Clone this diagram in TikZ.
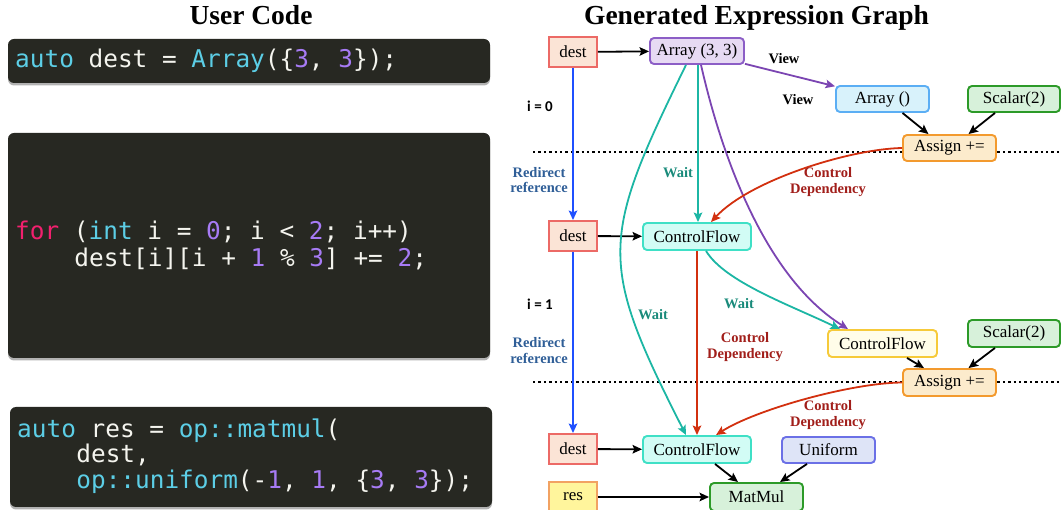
\documentclass[tikz,border=0pt]{standalone}
\usepackage{fontspec}
\setmainfont{Liberation Serif}
\newfontfamily\codefont{DejaVu Sans Mono}
\newfontfamily\lblsans{Carlito}
\usetikzlibrary{arrows.meta,shadows}

% code colours
\definecolor{codebg}{HTML}{272822}
\definecolor{codefg}{HTML}{F4F4EE}
\definecolor{kwcyan}{HTML}{5CCEE6}
\definecolor{kwpink}{HTML}{F2206E}
\definecolor{numpurple}{HTML}{A77BF5}
% graph colours
\definecolor{destfill}{HTML}{FBE4D6}
\definecolor{destdraw}{HTML}{EC6A66}
\definecolor{arrfill}{HTML}{E7DAF3}
\definecolor{arrdraw}{HTML}{8C5EC6}
\definecolor{viewfill}{HTML}{D8F2FB}
\definecolor{viewdraw}{HTML}{5BAEF4}
\definecolor{scalfill}{HTML}{D7F1DA}
\definecolor{scaldraw}{HTML}{2C9A28}
\definecolor{assfill}{HTML}{FCEBCC}
\definecolor{assdraw}{HTML}{F39A2E}
\definecolor{cffill}{HTML}{D2FCF5}
\definecolor{cfdraw}{HTML}{3FE0C6}
\definecolor{cfyfill}{HTML}{FFFDE9}
\definecolor{cfydraw}{HTML}{F6CA3A}
\definecolor{uniffill}{HTML}{DEE4F7}
\definecolor{unifdraw}{HTML}{6B70E6}
\definecolor{resfill}{HTML}{FFF59C}
\definecolor{resdraw}{HTML}{F2A262}
\definecolor{refblue}{HTML}{1F50FF}
\definecolor{waitteal}{HTML}{1CB6A4}
\definecolor{viewpurple}{HTML}{7B45B2}
\definecolor{ctrlred}{HTML}{D2300F}
\definecolor{lblblue}{HTML}{2F5E97}
\definecolor{lblteal}{HTML}{1A8B7B}
\definecolor{lblred}{HTML}{A11E1A}

\newcommand{\kw}[1]{\textcolor{kwcyan}{#1}}
\newcommand{\num}[1]{\textcolor{numpurple}{#1}}

\begin{document}
\begin{tikzpicture}[x=1pt,y=-1pt,
  codebox/.style={fill=codebg, draw=none, rounded corners=6pt, inner sep=0pt,
    drop shadow={shadow xshift=0pt, shadow yshift=-2.5pt, opacity=0.3, fill=black}},
  codeline/.style={anchor=base west, inner sep=0pt, text=codefg,
    font=\codefont\fontsize{24.4}{28}\selectfont},
  title/.style={anchor=base, inner sep=0pt, font=\bfseries\fontsize{27.5}{30}\selectfont},
  gbox/.style={draw, line width=1.9pt, inner sep=0pt, minimum height=26pt,
    rounded corners=4pt, font=\fontsize{17}{18}\selectfont},
  varbox/.style={draw, line width=1.9pt, inner sep=0pt, minimum width=48pt,
    minimum height=30pt, font=\fontsize{17}{18}\selectfont},
  conn/.style={line width=1.8pt, -{Stealth[length=9.5pt,width=8.5pt,inset=1.8pt]}},
  lbl/.style={inner sep=0pt, align=center, font=\bfseries\fontsize{14.5}{15.5}\selectfont},
  iterlbl/.style={inner sep=0pt, font=\lblsans\bfseries\fontsize{15}{16}\selectfont},
  dotline/.style={line width=2.4pt, dash pattern=on 2.4pt off 3pt}]

\useasboundingbox (0,0) rectangle (1061,510);

% ---------------- user code ----------------
\node[title] (ucTitle) at (251,25) {User Code};

\node[codebox, minimum width=482pt, minimum height=44pt] (cb1) at (249,61) {};
\node[codeline] (l1) at (15,68) {\kw{auto} dest = \kw{Array}(\{\num{3}, \num{3}\});};

\node[codebox, minimum width=482pt, minimum height=225pt] (cb2) at (249,245.5) {};
\node[codeline] (l2) at (15,240) {\textcolor{kwpink}{for} (\kw{int} i = \num{0}; i < \num{2}; i++)};
\node[codeline] (l3) at (74.2,267) {dest[i][i + \num{1} \% \num{3}] += \num{2};};

\node[codebox, minimum width=482pt, minimum height=100pt] (cb3) at (251,457) {};
\node[codeline] (l4) at (17,438) {\kw{auto} res = \kw{op::matmul}(};
\node[codeline] (l5) at (76.2,463) {dest,};
\node[codeline] (l6) at (76.2,489) {\kw{op::uniform}(-\num{1}, \num{1}, \{\num{3}, \num{3}\});};

% ---------------- expression graph ----------------
\node[title] (egTitle) at (756.5,25) {Generated Expression Graph};

% loop iteration separators
\draw[dotline] (533,152) -- (1061,152);
\draw[dotline] (533,382) -- (1061,382);

% nodes
\node[varbox, fill=destfill, draw=destdraw] (d1) at (573,52) {dest};
\node[gbox, fill=arrfill, draw=arrdraw, minimum width=94pt] (arr) at (697,51) {Array (3, 3)};
\node[gbox, fill=viewfill, draw=viewdraw, minimum width=93pt] (view) at (882.5,99) {Array ()};
\node[gbox, fill=scalfill, draw=scaldraw, minimum width=92pt] (sc1) at (1014,99) {Scalar(2)};
\node[gbox, fill=assfill, draw=assdraw, minimum width=93pt] (ass1) at (949.5,148) {Assign +=};

\node[varbox, fill=destfill, draw=destdraw] (d2) at (573,236) {dest};
\node[gbox, fill=cffill, draw=cfdraw, minimum width=108pt, minimum height=27pt] (cf1) at (697,236.5) {ControlFlow};

\node[gbox, fill=cfyfill, draw=cfydraw, minimum width=109pt, minimum height=27pt] (cf2) at (882.5,343.5) {ControlFlow};
\node[gbox, fill=scalfill, draw=scaldraw, minimum width=92pt, minimum height=27pt] (sc2) at (1014,333.5) {Scalar(2)};
\node[gbox, fill=assfill, draw=assdraw, minimum width=93pt, minimum height=27pt] (ass2) at (949.5,382.5) {Assign +=};

\node[varbox, fill=destfill, draw=destdraw] (d3) at (573,449) {dest};
\node[gbox, fill=cffill, draw=cfdraw, minimum width=108pt, minimum height=27pt] (cf3) at (697,449.5) {ControlFlow};
\node[gbox, fill=uniffill, draw=unifdraw, minimum width=93pt] (unif) at (828.5,450) {Uniform};

\node[varbox, fill=resfill, draw=resdraw] (res) at (573,497) {res};
\node[gbox, fill=scalfill, draw=scaldraw, minimum width=93pt, minimum height=28pt] (mm) at (756.5,497) {MatMul};

% data flow (black)
\draw[conn] (d1) -- (arr);
\draw[conn] (d2) -- (cf1);
\draw[conn] (d3) -- (cf3);
\draw[conn] (res) -- (mm);
\draw[conn] ([xshift=20pt]view.south) -- ([xshift=-21pt]ass1.north);
\draw[conn] ([xshift=-19pt]sc1.south) -- ([xshift=19pt]ass1.north);
\draw[conn] ([xshift=24.5pt]cf2.south) -- ([xshift=-25.5pt]ass2.north);
\draw[conn] ([xshift=-19pt]sc2.south) -- ([xshift=19pt]ass2.north);
\draw[conn] ([xshift=18pt]cf3.south) -- ([xshift=-18.5pt]mm.north);
\draw[conn] ([xshift=-21.5pt]unif.south) -- ([xshift=23.5pt]mm.north);

% redirected references (blue)
\draw[conn, refblue] (d1) -- (d2);
\draw[conn, refblue] (d2) -- (d3);

% views (purple)
\draw[conn, viewpurple] (arr.-15) -- (view.165);
\draw[conn, viewpurple] ([xshift=4pt]arr.south) .. controls (725,170) and (770,280) .. ([xshift=-34.5pt]cf2.north);

% waits (teal)
\draw[conn, waitteal] ([xshift=1pt]arr.south) -- ([xshift=1pt]cf1.north);
\draw[conn, waitteal] ([xshift=-11pt]arr.south) .. controls (600,240) and (598,262) .. ([xshift=-11pt]cf3.north);
\draw[conn, waitteal] ([xshift=9pt]cf1.south) .. controls (725,282) and (790,305) .. ([xshift=-42.5pt]cf2.north);

% control dependencies (red)
\draw[conn, ctrlred] (cf1) -- (cf3);
\draw[conn, ctrlred] (ass1.west) .. controls (850,149) and (750,180) .. ([xshift=14pt]cf1.north);
\draw[conn, ctrlred] (ass2.west) .. controls (850,383) and (755,410) .. ([xshift=19pt]cf3.north);

% labels
\node[lbl] (vw1) at (784,59) {View};
\node[lbl] (vw2) at (798,100) {View};
\node[iterlbl] (it0) at (540,106) {i = 0};
\node[iterlbl] (it1) at (540,304) {i = 1};
\node[lbl, text=lblblue] (rr1) at (539,180) {Redirect\\reference};
\node[lbl, text=lblblue] (rr2) at (539,350.5) {Redirect\\reference};
\node[lbl, text=lblteal] (w1) at (678,173) {Wait};
\node[lbl, text=lblteal] (w2) at (653,315) {Wait};
\node[lbl, text=lblteal] (w3) at (739,304) {Wait};
\node[lbl, text=lblred] (cd1) at (828,182) {Control\\Dependency};
\node[lbl, text=lblred] (cd2) at (745,347) {Control\\Dependency};
\node[lbl, text=lblred] (cd3) at (828,415) {Control\\Dependency};

\end{tikzpicture}
\end{document}
